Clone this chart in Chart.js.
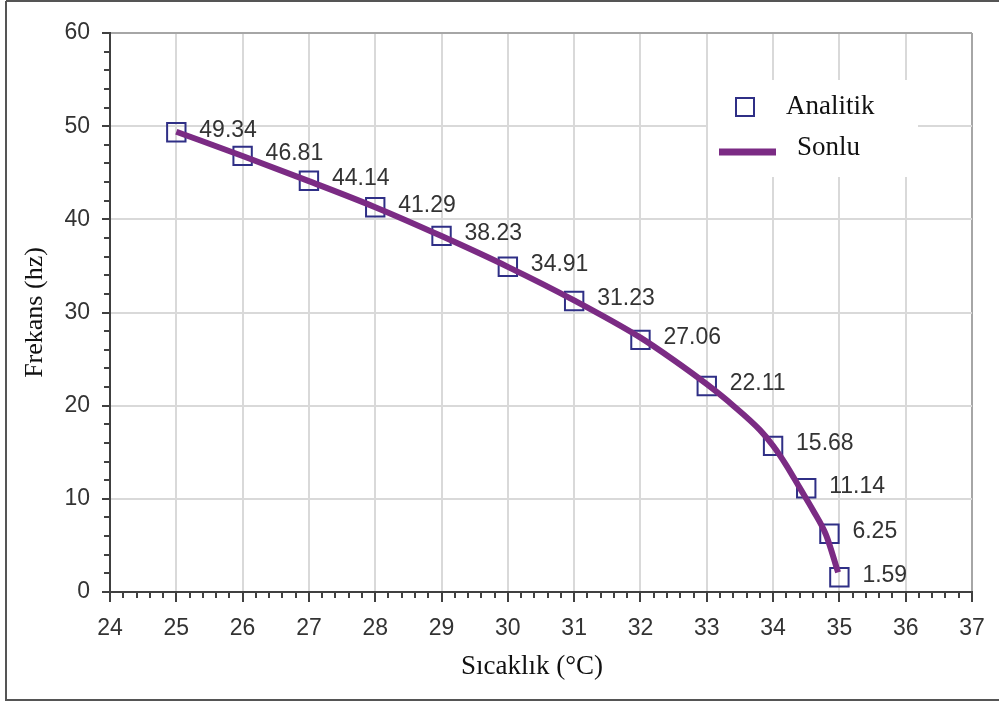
<!DOCTYPE html>
<html lang="tr">
<head>
    <meta charset="UTF-8">
    <title>Frekans - Sıcaklık</title>
    <script src="https://cdn.jsdelivr.net/npm/chart.js"></script>
    <style>
        body { margin: 0; background: #fff; }
        #wrap { position: relative; width: 1000px; height: 704px; }
    </style>
</head>
<body>
    <div id="wrap">
        <canvas id="freqChart" width="1000" height="704"></canvas>
    </div>

    <script>
        // Analitik çözüm (kareler)
        const analitikX = [25, 26, 27, 28, 29, 30, 31, 32, 33, 34, 34.5, 34.85, 35];
        const analitikY = [49.34, 46.81, 44.14, 41.29, 38.23, 34.91, 31.23, 27.06, 22.11, 15.68, 11.14, 6.25, 1.59];

        // Sonlu elemanlar (mor çizgi), resimden okunan noktalar
        const sonluX = [25, 26, 27, 28, 29, 30, 31, 32, 32.5, 33, 33.4, 33.8, 34, 34.2, 34.4, 34.6, 34.8, 34.98];
        const sonluY = [49.4, 46.8, 44.1, 41.3, 38.2, 34.9, 31.3, 27.3, 24.9, 22.3, 20.0, 17.4, 15.7, 13.6, 11.2, 8.8, 6.1, 2.1];

        const seriesNames = ['Analitik', 'Sonlu'];
        const xTitle = 'Sıcaklık (°C)';
        const yTitle = 'Frekans (hz)';

        const purple = '#7b2b84';
        const navy = '#2f2f86';
        const axisColor = '#404040';
        const gridColor = '#d9d9d9';
        const sans = '"Liberation Sans", Arial, sans-serif';
        const serif = '"Liberation Serif", "Times New Roman", serif';

        // ara çentikler (minor ticks)
        const minorTicks = {
            id: 'minorTicks',
            afterDraw(chart) {
                const ctx = chart.ctx;
                const xs = chart.scales.x, ys = chart.scales.y;
                ctx.save();
                ctx.strokeStyle = axisColor;
                ctx.lineWidth = 2;
                ctx.beginPath();
                for (let i = 0; i <= 60; i += 2) {
                    if (i % 10 === 0) continue;
                    const py = Math.round(ys.getPixelForValue(i));
                    ctx.moveTo(xs.left - 6, py);
                    ctx.lineTo(xs.left, py);
                }
                for (let i = 240; i <= 370; i += 2) {
                    if (i % 10 === 0) continue;
                    const px = Math.round(xs.getPixelForValue(i / 10));
                    ctx.moveTo(px, ys.bottom);
                    ctx.lineTo(px, ys.bottom + 6);
                }
                ctx.stroke();
                ctx.restore();
            }
        };

        // değer etiketleri
        const valueLabels = {
            id: 'valueLabels',
            afterDatasetsDraw(chart) {
                const ctx = chart.ctx;
                const meta = chart.getDatasetMeta(1);
                ctx.save();
                ctx.font = '23px ' + sans;
                ctx.fillStyle = '#333';
                ctx.textAlign = 'left';
                ctx.textBaseline = 'middle';
                meta.data.forEach((pt, i) => {
                    ctx.fillText(analitikY[i].toFixed(2), pt.x + 23, pt.y - 2);
                });
                ctx.restore();
            }
        };

        // grafik içindeki lejant, x başlığı ve çerçeve
        const boxLegend = {
            id: 'boxLegend',
            afterDraw(chart) {
                const ctx = chart.ctx;
                ctx.save();
                ctx.fillStyle = '#fff';
                ctx.fillRect(708, 80, 210, 97);

                ctx.strokeStyle = navy;
                ctx.lineWidth = 2;
                ctx.strokeRect(736, 98, 18, 18);

                ctx.strokeStyle = purple;
                ctx.lineWidth = 7;
                ctx.beginPath();
                ctx.moveTo(719, 152);
                ctx.lineTo(776, 152);
                ctx.stroke();

                ctx.fillStyle = '#111';
                ctx.font = '27px ' + serif;
                ctx.textBaseline = 'middle';
                ctx.fillText(seriesNames[0], 786, 107);
                ctx.fillText(seriesNames[1], 797, 148);

                // x ekseni başlığı
                ctx.font = '27px ' + serif;
                ctx.textAlign = 'center';
                ctx.fillText(xTitle, 532, 667);

                // dış çerçeve
                ctx.strokeStyle = '#555';
                ctx.lineWidth = 2;
                ctx.beginPath();
                ctx.moveTo(6, 1);
                ctx.lineTo(999, 1);
                ctx.moveTo(6, 1);
                ctx.lineTo(6, 700);
                ctx.lineTo(999, 700);
                ctx.stroke();
                ctx.restore();
            }
        };

        new Chart(document.getElementById('freqChart'), {
            type: 'line',
            data: {
                datasets: [{
                    label: seriesNames[1],
                    data: sonluX.map((x, i) => ({ x: x, y: sonluY[i] })),
                    borderColor: purple,
                    borderWidth: 6,
                    pointRadius: 0,
                    cubicInterpolationMode: 'monotone',
                    order: 0
                }, {
                    label: seriesNames[0],
                    data: analitikX.map((x, i) => ({ x: x, y: analitikY[i] })),
                    showLine: false,
                    pointStyle: 'rect',
                    pointRadius: 13,
                    pointBorderWidth: 2,
                    pointBorderColor: navy,
                    pointBackgroundColor: 'rgba(0,0,0,0)',
                    order: 1
                }]
            },
            options: {
                responsive: false,
                animation: false,
                layout: { padding: { left: 0, top: 33, right: 28, bottom: 0 } },
                plugins: {
                    legend: { display: false },
                    tooltip: { enabled: false }
                },
                scales: {
                    x: {
                        type: 'linear',
                        min: 24,
                        max: 37,
                        afterFit: s => { s.height = 112; },
                        border: { color: axisColor, width: 2 },
                        grid: {
                            color: c => c.tick && c.tick.value === 37 ? '#a6a6a6' : gridColor,
                            lineWidth: 2,
                            tickLength: 10,
                            tickColor: axisColor,
                            tickWidth: 2
                        },
                        ticks: {
                            stepSize: 1,
                            padding: 13,
                            color: '#333',
                            font: { family: sans, size: 23 }
                        },
                        title: { display: false }
                    },
                    y: {
                        type: 'linear',
                        min: 0,
                        max: 60,
                        afterFit: s => { s.width = 110; },
                        border: { color: axisColor, width: 2 },
                        grid: {
                            color: c => c.tick && c.tick.value === 60 ? '#a6a6a6' : gridColor,
                            lineWidth: 2,
                            tickLength: 8,
                            tickColor: axisColor,
                            tickWidth: 2
                        },
                        ticks: {
                            stepSize: 10,
                            padding: 12,
                            color: '#333',
                            font: { family: sans, size: 23 }
                        },
                        title: {
                            display: true,
                            text: yTitle,
                            color: '#111',
                            padding: { top: 20, bottom: 0 },
                            font: { family: serif, size: 26 }
                        }
                    }
                }
            },
            plugins: [minorTicks, valueLabels, boxLegend]
        });
    </script>
</body>
</html>
